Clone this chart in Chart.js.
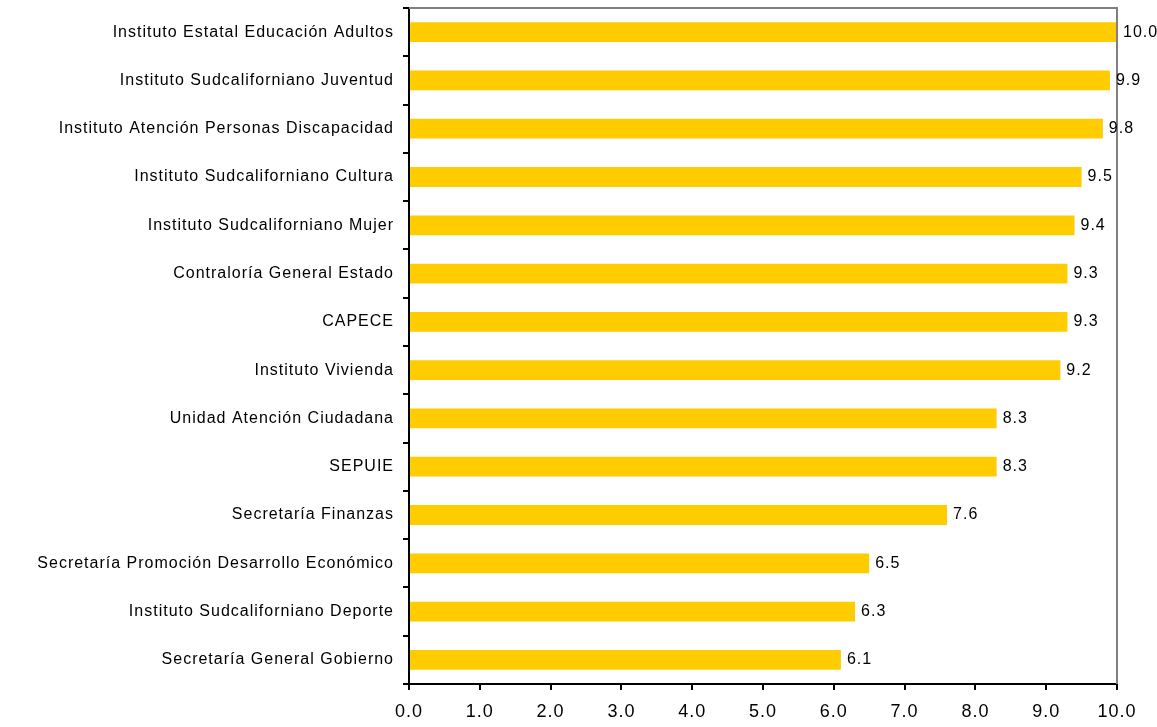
<!DOCTYPE html>
<html>
<head>
<meta charset="utf-8">
<script src="https://cdn.jsdelivr.net/npm/chart.js@4"></script>
<style>
  html, body { margin: 0; padding: 0; background: #fff; }
</style>
</head>
<body>
<canvas id="chart" width="1157" height="727"></canvas>
<script>
// categorias e valores
const categories = [
    'Instituto Estatal Educación Adultos',
    'Instituto Sudcaliforniano Juventud',
    'Instituto Atención Personas Discapacidad',
    'Instituto Sudcaliforniano Cultura',
    'Instituto Sudcaliforniano Mujer',
    'Contraloría General Estado',
    'CAPECE',
    'Instituto Vivienda',
    'Unidad Atención Ciudadana',
    'SEPUIE',
    'Secretaría Finanzas',
    'Secretaría Promoción Desarrollo Económico',
    'Instituto Sudcaliforniano Deporte',
    'Secretaría General Gobierno'
];
const values = [10.0, 9.9, 9.8, 9.5, 9.4, 9.3, 9.3, 9.2, 8.3, 8.3, 7.6, 6.5, 6.3, 6.1];
const xTicks = [0, 1, 2, 3, 4, 5, 6, 7, 8, 9, 10];

const FONT = "'Liberation Sans', Arial, sans-serif";

// espaçamento de letras como no original
const spacing = {
    id: 'spacing',
    beforeDraw(chart) { chart.ctx.letterSpacing = '1px'; },
    afterDraw(chart) { chart.ctx.letterSpacing = '0px'; }
};

// rótulos de valor no fim das barras + moldura cinza (topo e direita)
const extras = {
    id: 'extras',
    afterDatasetsDraw(chart) {
        const ctx = chart.ctx;
        const area = chart.chartArea;
        ctx.save();
        ctx.strokeStyle = '#808080';
        ctx.lineWidth = 2;
        ctx.beginPath();
        ctx.moveTo(area.left, area.top);
        ctx.lineTo(area.right, area.top);
        ctx.lineTo(area.right, area.bottom);
        ctx.stroke();

        ctx.fillStyle = '#000';
        ctx.font = '16px ' + FONT;
        ctx.textAlign = 'left';
        ctx.textBaseline = 'middle';
        chart.getDatasetMeta(0).data.forEach((bar, i) => {
            ctx.fillText(values[i].toFixed(1), bar.x + 6, bar.y);
        });
        ctx.restore();
    }
};

const ctx = document.getElementById('chart').getContext('2d');
const chart = new Chart(ctx, {
    type: 'bar',
    data: {
        labels: categories,
        datasets: [{
            data: values,
            backgroundColor: '#FFCC00',
            borderWidth: 0,
            categoryPercentage: 1.0,
            barPercentage: 0.41
        }]
    },
    options: {
        indexAxis: 'y',
        responsive: false,
        animation: false,
        layout: {
            padding: { top: 8, right: 40, bottom: 0, left: 0 }
        },
        plugins: {
            legend: { display: false },
            tooltip: { enabled: false }
        },
        scales: {
            y: {
                afterFit(scale) {
                    scale.width = 409;
                    scale.paddingTop = 0;
                    scale.paddingBottom = 0;
                },
                grid: {
                    drawOnChartArea: false,
                    drawTicks: true,
                    tickLength: 6,
                    color: '#000',
                    lineWidth: 2
                },
                border: { color: '#000', width: 2 },
                ticks: {
                    color: '#000',
                    padding: 9,
                    font: { family: FONT, size: 16 }
                }
            },
            x: {
                min: 0,
                max: 10,
                afterFit(scale) {
                    scale.height = 43;
                    scale.paddingLeft = 0;
                    scale.paddingRight = 0;
                },
                afterBuildTicks(scale) {
                    scale.ticks = xTicks.map(v => ({ value: v }));
                },
                grid: {
                    drawOnChartArea: false,
                    drawTicks: true,
                    tickLength: 6,
                    color: '#000',
                    lineWidth: 2
                },
                border: { color: '#000', width: 2 },
                ticks: {
                    color: '#000',
                    padding: 11,
                    maxRotation: 0,
                    font: { family: FONT, size: 18 },
                    callback: (v) => Number(v).toFixed(1)
                }
            }
        }
    },
    plugins: [spacing, extras]
});
</script>
</body>
</html>
